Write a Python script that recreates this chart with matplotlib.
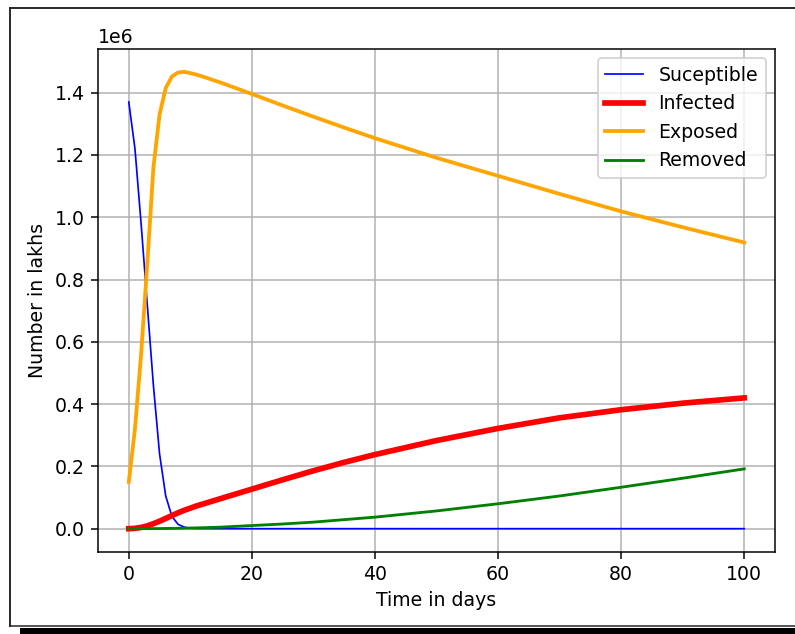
import matplotlib
matplotlib.use("Agg")
import matplotlib.pyplot as plt
from matplotlib.lines import Line2D
from matplotlib.patches import Rectangle
import numpy as np

# values, in millions (axis shows 1e6 offset)
days = [0, 1, 2, 3, 4, 5, 6, 7, 8, 9, 10, 11, 12, 15, 20, 25, 30, 35, 40, 50, 60, 70, 80, 90, 100]
susceptible = [1.37, 1.22, 0.98, 0.72, 0.46, 0.24, 0.105, 0.04, 0.014, 0.005, 0.0015, 0.0005, 0.0002,
               0, 0, 0, 0, 0, 0, 0, 0, 0, 0, 0, 0]
infected = [0, 0.001, 0.004, 0.009, 0.016, 0.024, 0.033, 0.042, 0.051, 0.059, 0.066, 0.073, 0.079,
            0.097, 0.127, 0.157, 0.186, 0.213, 0.238, 0.283, 0.322, 0.356, 0.382, 0.403, 0.420]
exposed = [0.15, 0.32, 0.56, 0.85, 1.16, 1.33, 1.415, 1.452, 1.465, 1.467, 1.463, 1.458, 1.452,
           1.432, 1.396, 1.359, 1.323, 1.288, 1.254, 1.191, 1.133, 1.075, 1.019, 0.968, 0.919]
removed = [0, 0, 0, 0.0001, 0.0002, 0.0004, 0.0006, 0.0009, 0.0012, 0.0016, 0.002, 0.0025, 0.003,
           0.005, 0.010, 0.015, 0.021, 0.029, 0.037, 0.057, 0.080, 0.105, 0.133, 0.162, 0.192]

scale = 1e6
DPI = 136  # reference looks like a default 6.4x4.8 figure blown up ~1.36x

fig = plt.figure(figsize=(795 / DPI, 634 / DPI), dpi=DPI)
ax = fig.add_axes([0.1233, 0.1301, 0.8515, 0.7926])

ax.plot(days, np.array(susceptible) * scale, color="blue", lw=0.9, label="Suceptible")
ax.plot(days, np.array(infected) * scale, color="red", lw=3, label="Infected")
ax.plot(days, np.array(exposed) * scale, color="orange", lw=2, label="Exposed")
ax.plot(days, np.array(removed) * scale, color="green", lw=1.5, label="Removed")

ax.set_xlabel("Time in days")
ax.set_ylabel("Number in lakhs")
ax.grid(True)
ax.legend(loc="upper right")

# screenshot-style frame around the figure
fig.add_artist(Line2D([10 / 795, 10 / 795], [(634 - 8) / 634, (634 - 626) / 634],
                      transform=fig.transFigure, color="#222222", lw=1.0))
fig.add_artist(Line2D([10 / 795, 1], [(634 - 8) / 634, (634 - 8) / 634],
                      transform=fig.transFigure, color="#222222", lw=1.0))
fig.add_artist(Line2D([10 / 795, 1], [(634 - 625.5) / 634, (634 - 625.5) / 634],
                      transform=fig.transFigure, color="#222222", lw=0.8))
fig.add_artist(Rectangle((20 / 795, 0), 1, 6.5 / 634, transform=fig.transFigure,
                         color="black", lw=0))

fig.savefig("out.png", dpi=DPI)
